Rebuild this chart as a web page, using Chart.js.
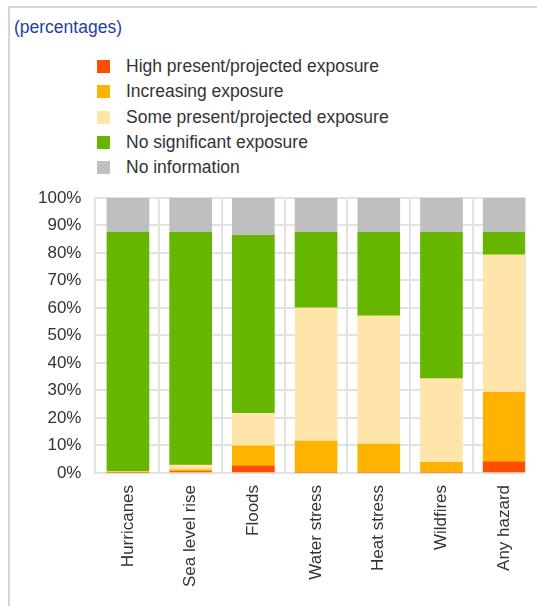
<!DOCTYPE html>
<html>
<head>
<meta charset="utf-8">
<script src="https://cdn.jsdelivr.net/npm/chart.js@4"></script>
<style>
  body { margin: 0; background: #fff; font-family: "Liberation Sans", Arial, sans-serif; }
  #wrap { position: relative; width: 537px; height: 606px; overflow: hidden; }
  #frame { position: absolute; left: 8px; top: 6px; right: -4px; bottom: -4px;
           border-top: 2px solid #d6d6d6; border-left: 2px solid #d6d6d6; }
  #title { position: absolute; left: 14px; top: 17px; font-size: 17.5px; color: #1f3f9f; }
  #legend { position: absolute; left: 97px; top: 54px; }
  #legend ul { list-style: none; margin: 0; padding: 0; }
  #legend li { display: flex; align-items: center; height: 25.3px; font-size: 17.5px; color: #333; }
  #legend li span { display: inline-block; width: 13px; height: 13px; margin-right: 16px; }
  canvas { position: absolute; left: 0; top: 0; }
</style>
</head>
<body>
<div id="wrap">
  <div id="frame"></div>
  <div id="title">(percentages)</div>
  <div id="legend"></div>
  <canvas id="exposure" width="537" height="606"></canvas>
</div>
<script>
const categories = ['Hurricanes', 'Sea level rise', 'Floods', 'Water stress', 'Heat stress', 'Wildfires', 'Any hazard'];

const highExposure       = [0,    0.5,  2.5,  0,    0,    0,    4.0];
const increasingExposure = [0,    0.6,  7.4,  11.6, 10.5, 3.9,  25.3];
const someExposure       = [0.5,  1.8,  11.8, 48.5, 46.6, 30.4, 50.0];
const noSignificant      = [87.0, 84.6, 64.7, 27.4, 30.4, 53.2, 8.2];
const noInformation      = [12.5, 12.5, 13.6, 12.5, 12.5, 12.5, 12.5];

const gridColor = '#e2e2e2';
const textColor = '#333';
const xMin = -0.518, xMax = 6.331;

// builds the legend as a plain list next to the canvas
const htmlLegend = {
  id: 'htmlLegend',
  afterUpdate(chart) {
    const box = document.getElementById('legend');
    box.innerHTML = '';
    const ul = document.createElement('ul');
    chart.options.plugins.legend.labels.generateLabels(chart).forEach(item => {
      const li = document.createElement('li');
      const sw = document.createElement('span');
      sw.style.background = item.fillStyle;
      li.appendChild(sw);
      li.appendChild(document.createTextNode(item.text));
      ul.appendChild(li);
    });
    box.appendChild(ul);
  }
};

function series(label, data, color) {
  return { label, data, backgroundColor: color, borderWidth: 0, barThickness: 42 };
}

new Chart(document.getElementById('exposure'), {
  type: 'bar',
  data: {
    labels: categories.map((c, i) => i),
    datasets: [
      series('High present/projected exposure', highExposure, '#ff4e00'),
      series('Increasing exposure', increasingExposure, '#ffb300'),
      series('Some present/projected exposure', someExposure, '#ffe5a9'),
      series('No significant exposure', noSignificant, '#66b600'),
      series('No information', noInformation, '#bfbfbf')
    ]
  },
  options: {
    responsive: false,
    animation: false,
    devicePixelRatio: 1,
    layout: { padding: { left: 24, right: 9, top: 198, bottom: 7 } },
    font: { family: '"Liberation Sans", Arial, sans-serif', size: 17 },
    plugins: {
      legend: { display: false },
      tooltip: { enabled: false }
    },
    scales: {
      x: {
        type: 'linear',
        min: xMin, max: xMax,
        offset: false,
        stacked: true,
        grid: { display: false, drawTicks: false, offset: false },
        border: { display: false },
        afterBuildTicks: axis => { axis.ticks = categories.map((c, i) => ({ value: i })); },
        ticks: {
          autoSkip: false, minRotation: 90, maxRotation: 90, padding: 12,
          color: textColor, font: { size: 17 },
          callback: v => categories[v]
        }
      },
      // separators between the categories
      xGrid: {
        type: 'linear',
        axis: 'x',
        position: 'bottom',
        min: xMin, max: xMax,
        offset: false,
        afterBuildTicks: axis => {
          axis.ticks = categories.slice(1).map((c, i) => ({ value: i + 0.5 })).concat([{ value: xMax }]);
        },
        ticks: { display: false },
        grid: { color: gridColor, lineWidth: 2, drawTicks: false, offset: false },
        border: { display: false }
      },
      y: {
        min: 0, max: 100,
        stacked: true,
        grid: { color: gridColor, lineWidth: 2, drawTicks: false },
        border: { color: gridColor, width: 2 },
        ticks: {
          stepSize: 10, padding: 14,
          color: textColor, font: { size: 17 },
          callback: v => v + '%'
        }
      }
    }
  },
  plugins: [htmlLegend]
});
</script>
</body>
</html>
